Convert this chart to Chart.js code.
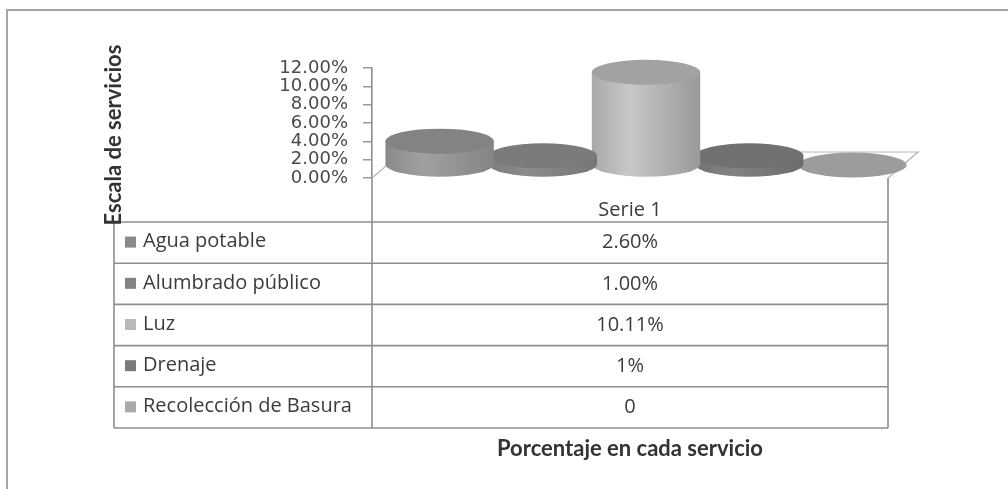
<!DOCTYPE html>
<html><head><meta charset="utf-8">
<script src="https://cdn.jsdelivr.net/npm/chart.js@4.4.0/dist/chart.umd.min.js"></script>
<style>html,body{margin:0;padding:0;background:#fff;}#wrap{position:relative;width:1008px;height:489px;}</style>
</head><body><div id="wrap"><canvas id="c" width="1008" height="489"></canvas></div>
<script>
const categories = ['Serie 1'];
const services = ['Agua potable', 'Alumbrado público', 'Luz', 'Drenaje', 'Recolección de Basura'];
const values = [2.6, 1.0, 10.11, 1, 0];
const valueLabels = ['2.60%', '1.00%', '10.11%', '1%', '0'];
const yTickMin = 0, yTickMax = 12, yTickStep = 2;
const yTitle = 'Escala de servicios';
const xTitle = 'Porcentaje en cada servicio';

const legendColors = ['#8a8a8a', '#838383', '#b9b9b9', '#7a7a7a', '#a9a9a9'];
const sideColors = [['#8a8a8a','#a0a0a0','#858585'], ['#7c7c7c','#8c8c8c','#767676'], ['#a9a9a9','#c8c8c8','#999999'], ['#737373','#828282','#6c6c6c'], ['#999999','#a5a5a5','#929292']];
const topColors = ['#838383', '#7b7b7b', '#a2a2a2', '#717171', '#9c9c9c'];

const DX = 16, DY = -13, RY = 12.5, WF = 1.05, FLOOR_DX = 30, FLOOR_DY = -26;
const HEADER_BOTTOM = 222, ROW_H = 41.2, TABLE_LEFT = 114;

const decorPlugin = {
  id: 'decor',
  beforeDraw(chart) {
    const ctx = chart.ctx;
    ctx.save();
    ctx.fillStyle = '#fff';
    ctx.fillRect(0, 0, chart.width, chart.height);
    ctx.strokeStyle = '#a6a6a6';
    ctx.lineWidth = 2;
    ctx.beginPath();
    ctx.moveTo(7, chart.height); ctx.lineTo(7, 10); ctx.lineTo(chart.width, 10);
    ctx.stroke();
    ctx.restore();
  },
  beforeDatasetsDraw(chart) {
    const ctx = chart.ctx, a = chart.chartArea;
    ctx.save();
    ctx.strokeStyle = '#b4b4b4';
    ctx.lineWidth = 1.2;
    ctx.beginPath();
    ctx.moveTo(a.left, a.bottom);
    ctx.lineTo(a.left + FLOOR_DX, a.bottom + FLOOR_DY);
    ctx.lineTo(a.right + FLOOR_DX, a.bottom + FLOOR_DY);
    ctx.lineTo(a.right, a.bottom);
    ctx.stroke();
    ctx.restore();
  },
  beforeDatasetDraw() { return false; },
  afterDatasetsDraw(chart) {
    const ctx = chart.ctx;
    for (let i = services.length - 1; i >= 0; i--) {
      const el = chart.getDatasetMeta(i).data[0];
      const cx = el.x + DX, rx = el.width * WF / 2;
      const yt = el.y + DY, yb = el.base + DY;
      ctx.save();
      if (yb - yt > 0.5) {
        const g = ctx.createLinearGradient(cx - rx, 0, cx + rx, 0);
        const s = sideColors[i];
        g.addColorStop(0, s[0]); g.addColorStop(0.35, s[1]); g.addColorStop(1, s[2]);
        ctx.beginPath();
        ctx.moveTo(cx - rx, yt);
        ctx.lineTo(cx - rx, yb);
        ctx.ellipse(cx, yb, rx, RY, 0, Math.PI, 0, true);
        ctx.lineTo(cx + rx, yt);
        ctx.closePath();
        ctx.fillStyle = g;
        ctx.fill();
      }
      ctx.beginPath();
      ctx.ellipse(cx, yt, rx, RY, 0, 0, Math.PI * 2);
      ctx.fillStyle = topColors[i];
      ctx.fill();
      ctx.restore();
    }
  },
  afterDraw(chart) {
    const ctx = chart.ctx, a = chart.chartArea;
    const tableBottom = HEADER_BOTTOM + ROW_H * services.length;
    const midX = (a.left + a.right) / 2;
    ctx.save();
    ctx.strokeStyle = '#8e8e8e';
    ctx.lineWidth = 1.6;
    ctx.beginPath();
    ctx.moveTo(a.left, a.bottom); ctx.lineTo(a.left, tableBottom);
    ctx.moveTo(a.right, a.bottom); ctx.lineTo(a.right, tableBottom);
    ctx.moveTo(TABLE_LEFT, HEADER_BOTTOM); ctx.lineTo(TABLE_LEFT, tableBottom);
    for (let r = 0; r <= services.length; r++) {
      const y = HEADER_BOTTOM + ROW_H * r;
      ctx.moveTo(TABLE_LEFT, y); ctx.lineTo(a.right, y);
    }
    ctx.stroke();

    ctx.fillStyle = '#3c3c3c';
    ctx.font = '20px "Open Sans"';
    ctx.textBaseline = 'middle';
    ctx.textAlign = 'center';
    ctx.fillText(categories[0], midX, 210);
    for (let r = 0; r < services.length; r++) {
      const yc = HEADER_BOTTOM + ROW_H * r + ROW_H / 2 - 1;
      ctx.textAlign = 'center';
      ctx.fillStyle = '#3c3c3c';
      ctx.fillText(valueLabels[r], midX, yc + 1);
      ctx.fillStyle = legendColors[r];
      ctx.fillRect(125, yc - 5, 11, 11);
      ctx.save();
      ctx.beginPath();
      ctx.rect(TABLE_LEFT, yc - 20, a.left - TABLE_LEFT - 2, 40);
      ctx.clip();
      ctx.fillStyle = '#3c3c3c';
      ctx.textAlign = 'left';
      ctx.fillText(services[r], 143, yc);
      ctx.restore();
    }

    ctx.fillStyle = '#333';
    ctx.font = 'bold 22px Lato';
    ctx.textAlign = 'center';
    ctx.fillText(xTitle, midX, 449);
    ctx.save();
    ctx.translate(114, 135);
    ctx.rotate(-Math.PI / 2);
    ctx.fillText(yTitle, 0, 0);
    ctx.restore();
    ctx.restore();
  }
};

const datasets = services.map((name, i) => ({
  label: name,
  data: [values[i]],
  backgroundColor: legendColors[i],
  categoryPercentage: 1,
  barPercentage: 1
}));

new Chart(document.getElementById('c'), {
  type: 'bar',
  data: { labels: categories, datasets },
  options: {
    responsive: false,
    animation: false,
    devicePixelRatio: 1,
    layout: { padding: { top: 68, right: 120, bottom: 311, left: 0 } },
    plugins: { legend: { display: false }, tooltip: { enabled: false } },
    scales: {
      x: { display: false },
      y: {
        min: yTickMin, max: yTickMax,
        afterFit(s) { s.width = 372; },
        ticks: {
          stepSize: yTickStep,
          autoSkip: false,
          padding: 15,
          color: '#4a4a4a',
          font: { family: 'DejaVu Sans', size: 18, lineHeight: 1 },
          callback: v => v.toFixed(2) + '%'
        },
        grid: { drawOnChartArea: false, tickLength: 9, color: '#9a9a9a', lineWidth: 1.5 },
        border: { color: '#8e8e8e', width: 1.6 }
      }
    }
  },
  plugins: [decorPlugin]
});
</script></body></html>
